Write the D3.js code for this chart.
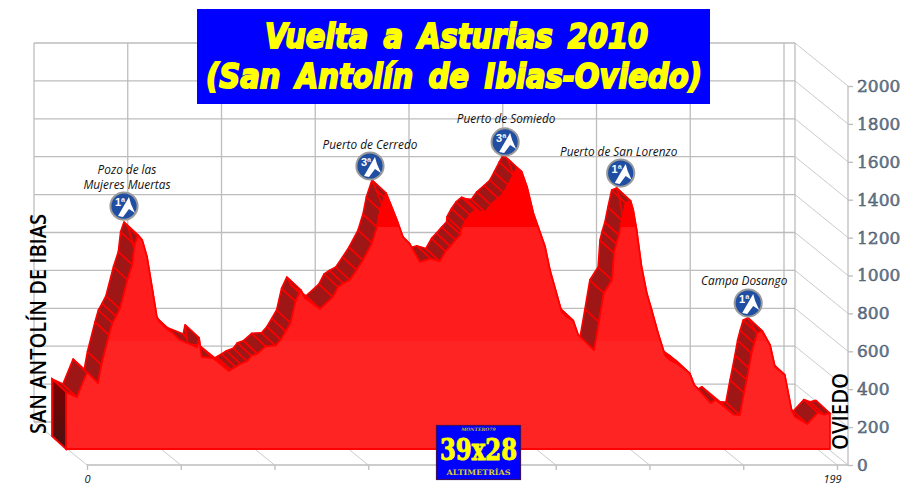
<!DOCTYPE html>
<html><head><meta charset="utf-8">
<script src="https://cdn.jsdelivr.net/npm/d3@7/dist/d3.min.js"></script>
<style>html,body{margin:0;padding:0;background:#fff}svg{display:block}</style>
</head><body><svg id="c" width="917" height="497"></svg>
<script>
const titleLines = ["Vuelta a Asturias 2010", "(San Antolín de Ibias-Oviedo)"];
const yTicks = [0,200,400,600,800,1000,1200,1400,1600,1800,2000];
const startName = "SAN ANTOLÍN DE IBIAS";
const endName = "OVIEDO";
const km = [0,2.9,5.6,8.5,9.4,11.4,12.3,13.3,14.3,16.3,17.6,18.2,19.1,20.2,21.5,22.8,24.1,24.9,27.1,28.4,30.2,34.8,35.3,36,39,43.2,43.7,45,46.3,48.1,49.2,50.8,53,55.6,57,58.3,59.6,60.9,62.3,63.4,67.4,70.8,72.2,73.6,75.3,77.1,78.8,81.2,82.5,83.4,84.9,86,87.8,89.4,91.2,93.9,96.8,99.2,100.7,102,103.4,104.7,104.8,106,107.2,108.7,109.8,111.3,112.7,114.7,116.2,117.3,118.7,119.7,120.9,122.3,124,127.1,128.4,131.5,132.8,134.6,135.9,140.1,141.4,142.7,144.9,145.4,146,146.7,147.5,148.5,149.8,150.5,151.4,152.7,154.1,155.4,157.1,158.9,160.2,162,163.8,165.5,166.7,167.8,171,172.4,177.2,178.8,179.9,180.6,181.2,181.9,182.6,183.4,184.7,186.8,188.1,190.7,192.5,193.4,196.7,199.5,201.1,202.7];
const alt = [301,274,406,348,445,602,665,700,739,893,973,1078,1129,1103,1013,855,697,670,628,612,575,538,586,485,480,412,418,433,450,463,492,503,542,545,577,621,665,779,839,797,739,802,855,874,892,945,997,1087,1171,1261,1351,1298,1208,1119,1082,987,1004,990,1043,1071,1103,1131,1157,1201,1235,1260,1252,1249,1289,1323,1351,1393,1446,1483,1463,1384,1244,1068,945,725,698,677,602,522,670,823,892,1034,1082,1129,1208,1298,1309,1261,1156,962,822,733,611,496,470,452,426,399,338,315,243,260,181,179,296,364,427,505,558,612,624,549,434,391,206,170,132,192,181,188];
const climbNames = [["Pozo de las","Mujeres Muertas"],["Puerto de Cerredo"],["Puerto de Somiedo"],["Puerto de San Lorenzo"],["Campa Dosango"]];
const climbKm = [19.1,84.9,119.7,148.5,183.4];
const climbAlt = [1129,1351,1483,1298,612];
const climbCat = ["1ª","3ª","3ª","1ª","1ª"];

const svg = d3.select("#c");
const W0=34, W1=795, Wtop=43, Wbot=422, dxD=53, dyD=43;
const xAxis = d3.scaleLinear().domain([0,199]).range([87,837]);
const yAxis = d3.scaleLinear().domain([0,2000]).range([465,86]);
const xF = d => xAxis(d)-21, yF = v => yAxis(v)-16;
const xB = d => xF(d)-14,   yB = v => yF(v)-13;
const grid = "#bdbdbd";
const g = svg.append("g").attr("stroke",grid).attr("stroke-width",1.3).attr("fill","none");
yTicks.forEach(v=>{
  const yb=yAxis(v)-dyD;
  g.append("line").attr("x1",W0).attr("x2",W1).attr("y1",yb).attr("y2",yb);
  g.append("line").attr("x1",W1).attr("x2",W1+dxD).attr("y1",yb).attr("y2",yb+dyD).attr("stroke-width",.8);
});
const kmTicks = d3.range(9).map(i=>i*199/8);
kmTicks.forEach(d=>{
  const xb=xAxis(d)-dxD;
  g.append("line").attr("x1",xb).attr("x2",xb).attr("y1",Wtop).attr("y2",Wbot);
  g.append("line").attr("x1",xb).attr("x2",xb+dxD).attr("y1",Wbot).attr("y2",Wbot+dyD).attr("stroke-width",.8);
});
g.append("line").attr("x1",W1).attr("x2",W1).attr("y1",Wtop).attr("y2",Wbot);

// axes
const axB = svg.append("g").attr("transform","translate(0,465)")
  .call(d3.axisBottom(xAxis).tickValues(kmTicks).tickSize(5).tickPadding(5).tickFormat((d,i)=> i===0?"0":(i===8?"199":"")));
axB.select(".domain").attr("d","M87,0H848").attr("stroke",grid).attr("stroke-width",1.3);
axB.selectAll("line").attr("stroke",grid).attr("stroke-width",1.3);
axB.selectAll("text").attr("font-family","'Open Sans',sans-serif").attr("font-style","italic").attr("font-size",11).attr("fill","#111");
axB.selectAll(".tick").filter((d,i)=>i===8).select("text").attr("dx",-5);
const axR = svg.append("g").attr("transform","translate(848,0)")
  .call(d3.axisRight(yAxis).tickValues(yTicks).tickSize(5).tickPadding(4).tickFormat(d3.format("d")));
axR.select(".domain").attr("stroke",grid).attr("stroke-width",1.3).attr("d","M0,86V465");
axR.selectAll("line").attr("stroke",grid).attr("stroke-width",1.3);
axR.selectAll("text").attr("font-family","'DejaVu Serif',serif").attr("font-size",17).attr("fill","#6a7d91").attr("stroke","#3a4a5e").attr("stroke-width",.45);

// profile
const defs = svg.append("defs");
const lg = defs.append("linearGradient").attr("id","bands").attr("gradientUnits","userSpaceOnUse").attr("x1",0).attr("x2",0).attr("y1",yF(2000)).attr("y2",yF(0));
const span = yF(0)-yF(2000);
const bandStops=[[2000,"#ff0000"],[1171,"#ff0000"],[1171,"#ff1c1c"],[570,"#ff1c1c"],[570,"#ff2424"],[0,"#ff2424"]];
bandStops.forEach(([v,c])=>lg.append("stop").attr("offset",(yF(v)-yF(2000))/span).attr("stop-color",c));
const sg = defs.append("linearGradient").attr("id","side").attr("x1",0).attr("x2",0).attr("y1",0).attr("y2",1);
sg.append("stop").attr("offset",0).attr("stop-color","#800000");
sg.append("stop").attr("offset",1).attr("stop-color","#4a1212");

const pts = km.map((d,i)=>({d,v:alt[i]}));
const rib = svg.append("g");
for(let i=0;i<pts.length-1;i++){
  const a=pts[i],b=pts[i+1];
  rib.append("path").attr("d",`M${xB(a.d)},${yB(a.v)}L${xB(b.d)},${yB(b.v)}L${xF(b.d)},${yF(b.v)}L${xF(a.d)},${yF(a.v)}Z`)
    .attr("fill","#9e1616").attr("stroke","#ff0000").attr("stroke-width",1.6).attr("stroke-linejoin","round");
}
const first=pts[0];
const area = d3.area().x(p=>xF(p.d)).y0(yF(0)).y1(p=>yF(p.v));
svg.append("path").datum(pts).attr("d",area).attr("fill","url(#bands)").attr("stroke","#ff0000").attr("stroke-width",1.8).attr("stroke-linejoin","round");
svg.append("path").attr("d",`M${xB(0)},${yB(first.v)}L${xF(0)},${yF(first.v)}L${xF(0)},${yF(0)}L${xB(0)},${yB(0)}Z`)
  .attr("fill","url(#side)").attr("stroke","#ff0000").attr("stroke-width",1.8);

// climbs
const badgeDx=[0,-2,2,9,5], badgeDy=[1,3,4,0,0], labelDx=[3,0,1,-2,-4], labelDy=[1,1,-1,1,0];
const cl = svg.append("g");
climbNames.forEach((lines,i)=>{
  const cx = xF(climbKm[i])-14+badgeDx[i], cy = yF(climbAlt[i])-30+badgeDy[i];
  const t = cl.append("text").attr("text-anchor","middle").attr("font-family","'Open Sans',sans-serif").attr("font-style","italic").attr("font-size",11.8).attr("fill","#111");
  lines.forEach((s,j)=>t.append("tspan").attr("x",cx+labelDx[i]).attr("y",cy-18+labelDy[i]-(lines.length-1-j)*15.5).text(s));
  const b = cl.append("g").attr("transform",`translate(${cx},${cy})`);
  b.append("circle").attr("r",13.6).attr("fill","#1f4ea3").attr("stroke","#9a9a9a").attr("stroke-width",2);
  b.append("path").attr("d","M-6,10L5,-9L7,-2L11,7L5,3L-1,11Z").attr("fill","#fff");
  b.append("text").attr("x",-4).attr("y",0).attr("text-anchor","middle").attr("font-family","'Liberation Sans',sans-serif").attr("font-weight","bold").attr("font-size",11).attr("fill","#fff").text(climbCat[i]);
});

// vertical names
svg.append("text").attr("transform","translate(46,434) rotate(-90)").attr("font-family","'Open Sans',sans-serif").attr("font-weight",600).attr("font-size",22).attr("textLength",220).attr("lengthAdjust","spacingAndGlyphs").attr("fill","#000").text(startName);
svg.append("text").attr("transform","translate(848,450) rotate(-90)").attr("font-family","'Open Sans',sans-serif").attr("font-weight",600).attr("font-size",22).attr("textLength",77).attr("lengthAdjust","spacingAndGlyphs").attr("fill","#000").text(endName);

// title
svg.append("rect").attr("x",197).attr("y",9).attr("width",513).attr("height",95).attr("fill","#0000ff");
const tt=[[265,48,383],[206,88,496]];
titleLines.forEach((s,i)=>svg.append("text").attr("x",tt[i][0]).attr("y",tt[i][1]).attr("font-family","'DejaVu Sans',sans-serif").attr("font-weight","bold").attr("font-style","italic").attr("font-size",33).attr("fill","#ffff00").attr("stroke","#ffff00").attr("stroke-width",2).attr("word-spacing",6).attr("textLength",tt[i][2]).attr("lengthAdjust","spacingAndGlyphs").text(s));

// logo
const lo = svg.append("g");
lo.append("rect").attr("x",436.5).attr("y",425.5).attr("width",84).attr("height",54).attr("fill","#0000ff").attr("stroke","#3a1060").attr("stroke-width",1.2);
const ser="'DejaVu Serif',serif";
lo.append("text").attr("x",478.5).attr("y",430.8).attr("text-anchor","middle").attr("font-family",ser).attr("font-style","italic").attr("font-weight","bold").attr("font-size",4.6).attr("fill","#c8b820").text("MONTERO79");
lo.append("text").attr("x",478.5).attr("y",460).attr("text-anchor","middle").attr("font-family",ser).attr("font-weight","bold").attr("font-size",29).attr("textLength",77).attr("lengthAdjust","spacingAndGlyphs").attr("fill","#ffff00").attr("stroke","#ffff00").attr("stroke-width",1).text("39x28");
lo.append("text").attr("x",478.5).attr("y",474.5).attr("text-anchor","middle").attr("font-family",ser).attr("font-weight","bold").attr("font-size",7.5).attr("textLength",64).attr("lengthAdjust","spacingAndGlyphs").attr("fill","#d8cc30").text("ALTIMETRÍAS");
</script></body></html>
